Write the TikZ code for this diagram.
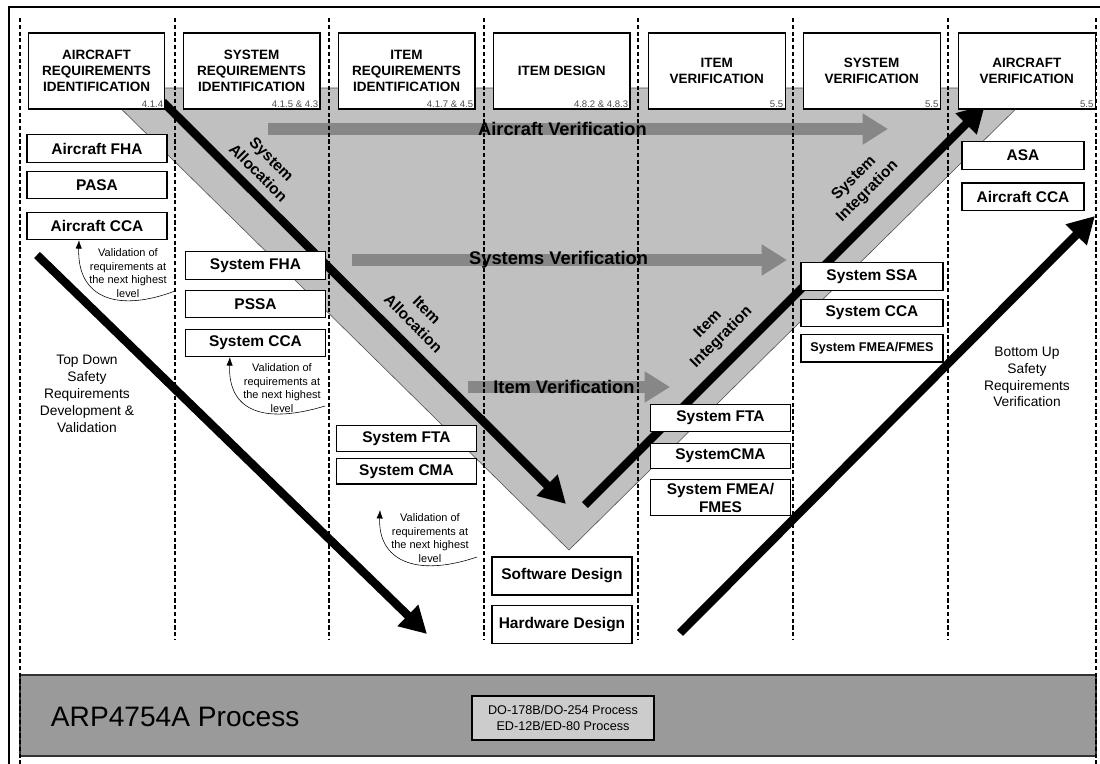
\documentclass[tikz,border=0pt]{standalone}
\usepackage{fontspec}
\setmainfont{Liberation Sans}
\usepackage{tikz}
\usetikzlibrary{arrows.meta,positioning}
\definecolor{vgray}{HTML}{C0C0C0}
\definecolor{arrowgray}{HTML}{878787}
\definecolor{bandgray}{HTML}{9A9A9A}
\definecolor{boxgray}{HTML}{CCCCCC}

\begin{document}
\begin{tikzpicture}[
    x=0.025cm,y=-0.025cm,
    phase/.style={draw,line width=0.8pt,fill=white,minimum width=3.42cm,
      minimum height=1.9cm,align=center,font=\bfseries\fontsize{9.6}{11.4}\selectfont},
    secnum/.style={anchor=south east,inner sep=1.5pt,text=black!70,
      font=\fontsize{6.8}{8}\selectfont},
    analysis/.style={draw,line width=0.8pt,fill=white,minimum width=3.5cm,
      minimum height=0.68cm,inner sep=1pt,align=center,
      font=\bfseries\fontsize{11}{13}\selectfont},
    mainflow/.style={line width=6pt,-{Triangle[length=19pt,width=20pt]}},
    verif/.style={line width=9.2pt,arrowgray,-{Triangle[length=18pt,width=21pt]}},
    verifnote/.style={pos=0.475,text=black,font=\bfseries\fontsize{13}{15}\selectfont},
    diaglabel/.style={align=center,font=\bfseries\fontsize{11}{13.5}\selectfont},
    note/.style={align=center,inner sep=0pt,font=\fontsize{7.8}{9.6}\selectfont},
    feedback/.style={thin,-{Latex[length=6pt,width=4.5pt]}},
    sidenote/.style={align=center,font=\fontsize{9.8}{12}\selectfont},
    colsep/.style={line width=1.5pt,dash pattern=on 3pt off 1.8pt}
  ]
    \useasboundingbox (0,0) rectangle (1100,764);

    \draw[black!70,fill=vgray] (100,88) -- (1037,88) -- (569,550) -- cycle;

    \coordinate (acv-s) at (268,129);
    \coordinate (acv-e) at (888,129);
    \coordinate (sysv-s) at (352,260);
    \coordinate (sysv-e) at (787,260);
    \coordinate (itv-s) at (468,387);
    \coordinate (itv-e) at (670,387);
    \draw[verif] (acv-s) -- (acv-e) node[verifnote] (acvtext) {Aircraft Verification};
    \draw[verif] (sysv-s) -- (sysv-e) node[verifnote] (sysvtext) {Systems Verification};
    \draw[verif] (itv-s) -- (itv-e) node[verifnote] (itvtext) {Item Verification};

    \draw[black!80,line width=0.8pt,fill=bandgray] (20,675) rectangle (1096,756);
    \node[anchor=west,font=\fontsize{20}{24}\selectfont] (arp) at (46,717) {ARP4754A Process};
    \node[draw,line width=0.8pt,fill=boxgray,minimum width=4.55cm,minimum height=1.1cm,
      align=center,font=\fontsize{9}{12}\selectfont] (doproc) at (563,718)
      {DO-178B/DO-254 Process\\ED-12B/ED-80 Process};

    \foreach \x in {175,329,484,638,793,948}
      \draw[colsep] (\x,18) -- (\x,640);
    \draw[colsep] (20,18) -- (20,764);
    \draw[colsep] (1096,18) -- (1096,764);
    \draw[line width=1.5pt] (9,764) -- (9,7) -- (1100,7);

    \coordinate (alloc-s) at (163,102);
    \coordinate (alloc-e) at (566,504);
    \coordinate (integ-s) at (585,505);
    \coordinate (integ-e) at (985,105);
    \coordinate (down-s) at (37,255);
    \coordinate (down-e) at (427,634);
    \coordinate (up-s) at (680,633);
    \coordinate (up-e) at (1095,216);
    \draw[mainflow] (alloc-s) -- (alloc-e);
    \draw[mainflow] (integ-s) -- (integ-e);
    \draw[mainflow] (down-s) -- (down-e);
    \draw[mainflow] (up-s) -- (up-e);

    \node[diaglabel,rotate=-45] (sysalloc) at (265,166) {System\\Allocation};
    \node[diaglabel,rotate=-45] (itemalloc) at (420,317) {Item\\Allocation};
    \node[diaglabel,rotate=45] (iteminteg) at (715,331) {Item\\Integration};
    \node[diaglabel,rotate=45] (sysinteg) at (861,185) {System\\Integration};

    \node[phase] (acreq) at (96.5,71) {AIRCRAFT\\REQUIREMENTS\\IDENTIFICATION};
    \node[phase,right=0.427cm of acreq] (sysreq) {SYSTEM\\REQUIREMENTS\\IDENTIFICATION};
    \node[phase,right=0.427cm of sysreq] (itemreq) {ITEM\\REQUIREMENTS\\IDENTIFICATION};
    \node[phase,right=0.427cm of itemreq] (itemdes) {ITEM DESIGN};
    \node[phase,right=0.427cm of itemdes] (itemver) {ITEM\\VERIFICATION};
    \node[phase,right=0.427cm of itemver] (sysver) {SYSTEM\\VERIFICATION};
    \node[phase,right=0.427cm of sysver] (acver) {AIRCRAFT\\VERIFICATION};
    \node[secnum] (acreq-num) at (acreq.south east) {4.1.4};
    \node[secnum] (sysreq-num) at (sysreq.south east) {4.1.5 \& 4.3};
    \node[secnum] (itemreq-num) at (itemreq.south east) {4.1.7 \& 4.5};
    \node[secnum] (itemdes-num) at (itemdes.south east) {4.8.2 \& 4.8.3};
    \node[secnum] (itemver-num) at (itemver.south east) {5.5};
    \node[secnum] (sysver-num) at (sysver.south east) {5.5};
    \node[secnum] (acver-num) at (acver.south east) {5.5};

    \node[analysis] (acfha) at (97,148.5) {Aircraft FHA};
    \node[analysis,below=0.2cm of acfha] (pasa) {PASA};
    \node[analysis,below=0.32cm of pasa] (accca) {Aircraft CCA};

    \node[analysis] (sysfha) at (255.5,265.5) {System FHA};
    \node[analysis,below=0.25cm of sysfha] (pssa) {PSSA};
    \node[analysis,below=0.27cm of pssa] (syscca) {System CCA};

    \node[analysis,minimum height=0.66cm] (sysfta) at (406.5,438.5) {System FTA};
    \node[analysis,minimum height=0.63cm,below=0.15cm of sysfta] (syscma) {System CMA};

    \node[analysis,minimum height=0.95cm] (swdes) at (562,576) {Software Design};
    \node[analysis,minimum height=0.95cm,below=0.225cm of swdes] (hwdes) {Hardware Design};

    \node[analysis] (itfta) at (720.5,418) {System FTA};
    \node[analysis,minimum height=0.63cm,below=0.27cm of itfta] (itcma) {SystemCMA};
    \node[analysis,minimum height=0.9cm,below=0.25cm of itcma] (itfmea) {System FMEA/\\FMES};

    \node[analysis,minimum width=3.55cm] (sysssa) at (872,276.5) {System SSA};
    \node[analysis,minimum width=3.55cm,below=0.2cm of sysssa] (sysvcca) {System CCA};
    \node[analysis,minimum width=3.55cm,below=0.18cm of sysvcca,
      font=\bfseries\fontsize{9}{11}\selectfont] (sysfmea) {System FMEA/FMES};

    \node[analysis,minimum width=3.05cm] (asa) at (1023,155.5) {ASA};
    \node[analysis,minimum width=3.05cm,below=0.32cm of asa] (acvcca) {Aircraft CCA};

    \node[note] (val1) at (128,273) {Validation of\\requirements at\\the next highest\\level};
    \node[note] (val2) at (282,388) {Validation of\\requirements at\\the next highest\\level};
    \node[note] (val3) at (430,538) {Validation of\\requirements at\\the next highest\\level};
    \coordinate (val1-s) at (175,291);
    \coordinate (val2-s) at (325,406);
    \coordinate (val3-s) at (477,557);
    \coordinate (val3-e) at (380,510);
    \draw[feedback] (val1-s) .. controls (120,312) and (77,300) .. ([xshift=-0.45cm]accca.south);
    \draw[feedback] (val2-s) .. controls (262,425) and (228,410) .. ([xshift=-0.64cm]syscca.south);
    \draw[feedback] (val3-s) .. controls (415,578) and (378,560) .. (val3-e);

    \node[sidenote] (topdown) at (87,394)
      {Top Down\\Safety\\Requirements\\Development \&\\Validation};
    \node[sidenote] (bottomup) at (1027,377)
      {Bottom Up\\Safety\\Requirements\\Verification};
  \end{tikzpicture}
\end{document}
